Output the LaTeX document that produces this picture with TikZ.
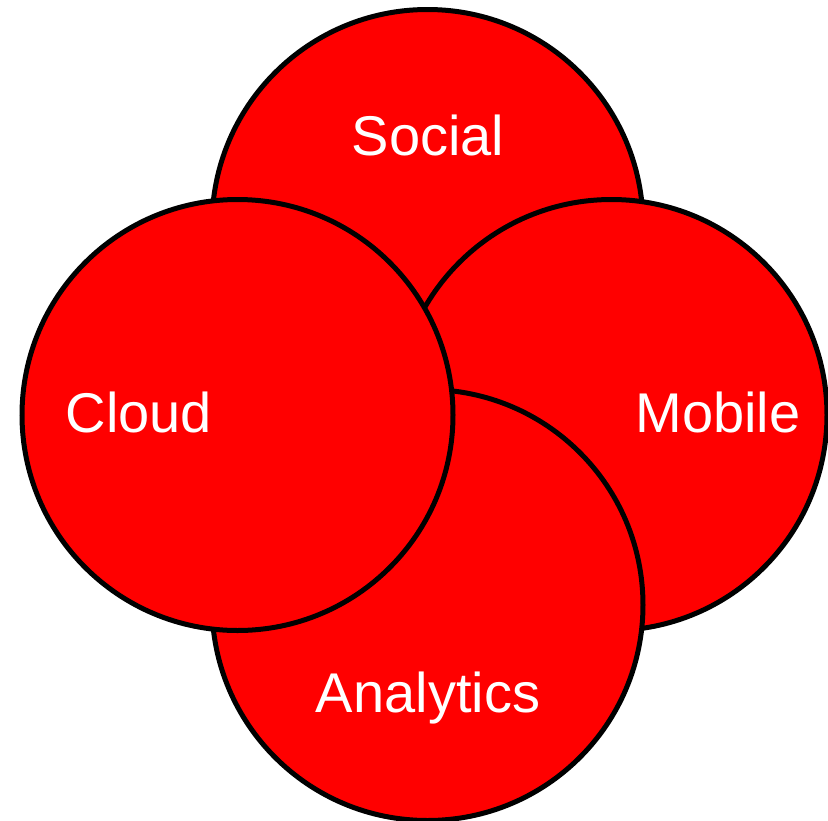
\documentclass[tikz,border=0pt]{standalone}
\usepackage{fontspec}
\setmainfont{Liberation Sans}
\begin{document}
\begin{tikzpicture}[x=1pt,y=-1pt,
  blob/.style={circle,draw=black,line width=5pt,fill=red,minimum size=431pt,inner sep=0pt},
  lbl/.style={text=white,font=\fontsize{56}{62}\selectfont,anchor=base,inner sep=0pt}]
\useasboundingbox (0,0) rectangle (828,820);
\node[blob] (social) at (427.5,225) {};
\node[blob] (mobile) at (611.5,415) {};
\node[blob] (analytics) at (427.5,605) {};
\node[blob] (cloud) at (237.5,415) {};
\node[lbl] (tsocial) at (428,155) {Social};
\node[lbl] (tcloud) at (139,432) {Cloud};
\node[lbl] (tmobile) at (718,432) {Mobile};
\node[lbl] (tanalytics) at (428,712) {Analytics};
\end{tikzpicture}
\end{document}
